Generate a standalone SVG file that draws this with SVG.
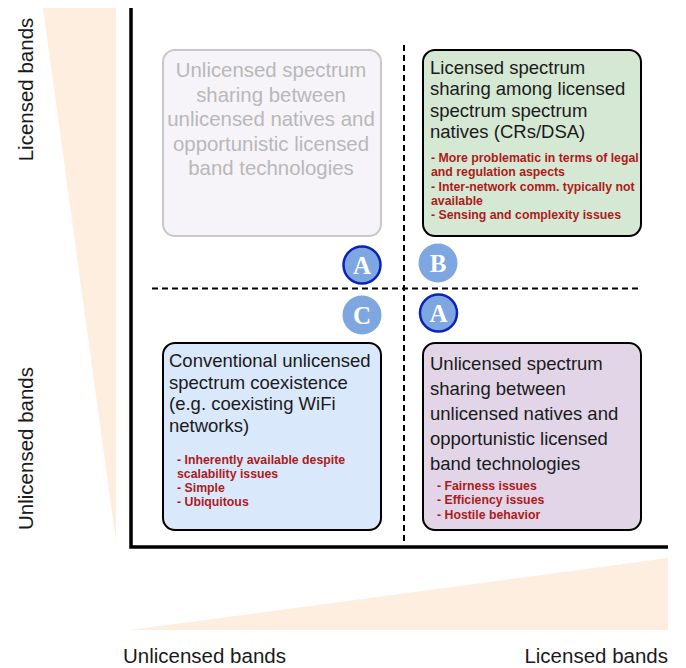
<svg xmlns="http://www.w3.org/2000/svg" width="686" height="668" viewBox="0 0 686 668">
<style>
.ax{font-family:"Liberation Sans",Arial,sans-serif;font-size:20.5px;fill:#1a1a1a}
.t{font-family:"Liberation Sans",Arial,sans-serif;font-size:18.5px;fill:#1a1a1a}
.g{font-family:"Liberation Sans",Arial,sans-serif;font-size:20.4px;fill:#b8b8b8;text-anchor:middle}
.r{font-family:"Liberation Sans",Arial,sans-serif;font-size:12.3px;font-weight:bold;fill:#ad1a1a}
.box{stroke:#000;stroke-width:2}
.dash{stroke:#000;stroke-width:2;stroke-dasharray:6,4;fill:none}
.circ{fill:#7ea6e0}
.ring{stroke:#0a23b8;stroke-width:2.5}
.let{font-family:"Liberation Serif","Times New Roman",serif;font-size:25px;font-weight:bold;fill:#fff;text-anchor:middle}
</style>
<g id="scales">
<polygon points="43,8 116,8 116,542" fill="#fdeedf"/>
<polygon points="130,630 668,558 668,630" fill="#fdeedf"/>
</g>
<g id="axes">
<path d="M131,8 V547 H668" fill="none" stroke="#000" stroke-width="3.5"/>
<text class="ax" transform="translate(33,89.5) rotate(-90)" text-anchor="middle">Licensed bands</text>
<text class="ax" transform="translate(33,448.5) rotate(-90)" text-anchor="middle">Unlicensed bands</text>
<text class="ax" x="123" y="663">Unlicensed bands</text>
<text class="ax" x="668" y="663" text-anchor="end">Licensed bands</text>
</g>
<g id="connectors">
<line class="dash" x1="404" y1="45" x2="404" y2="542"/>
<line class="dash" x1="152" y1="288.5" x2="642" y2="288.5"/>
</g>
<g id="box-tl">
<rect x="163" y="50" width="218" height="186" rx="12" fill="#f6f4f8" stroke="#c8c8c8" stroke-width="2"/>
<text class="g"><tspan x="271" y="77">Unlicensed spectrum</tspan><tspan x="271" y="101.5">sharing between</tspan><tspan x="271" y="126">unlicensed natives and</tspan><tspan x="271" y="150.5">opportunistic licensed</tspan><tspan x="271" y="175">band technologies</tspan></text>
</g>
<g id="box-tr">
<rect class="box" x="423" y="50" width="218" height="186" rx="12" fill="#d5e8d4"/>
<text class="t"><tspan x="430" y="73.5">Licensed spectrum</tspan><tspan x="430" y="95">sharing among licensed</tspan><tspan x="430" y="116.5">spectrum spectrum</tspan><tspan x="430" y="138">natives (CRs/DSA)</tspan></text>
<text class="r"><tspan x="431" y="162">- More problematic in terms of legal</tspan><tspan x="431" y="176.3">and regulation aspects</tspan><tspan x="431" y="190.6">- Inter-network comm. typically not</tspan><tspan x="431" y="204.9">available</tspan><tspan x="431" y="219.2">- Sensing and complexity issues</tspan></text>
</g>
<g id="box-bl">
<rect class="box" x="163" y="343" width="218" height="187" rx="12" fill="#dae8fc"/>
<text class="t"><tspan x="169" y="367">Conventional unlicensed</tspan><tspan x="169" y="388.5">spectrum coexistence</tspan><tspan x="169" y="410">(e.g. coexisting WiFi</tspan><tspan x="169" y="431.5">networks)</tspan></text>
<text class="r"><tspan x="177" y="463.5">- Inherently available despite</tspan><tspan x="177" y="477.8">scalability issues</tspan><tspan x="177" y="492.1">- Simple</tspan><tspan x="177" y="506.4">- Ubiquitous</tspan></text>
</g>
<g id="box-br">
<rect class="box" x="423" y="343" width="218" height="187" rx="12" fill="#e1d5e7"/>
<text class="t"><tspan x="430" y="369.5">Unlicensed spectrum</tspan><tspan x="430" y="394.5">sharing between</tspan><tspan x="430" y="419.5">unlicensed natives and</tspan><tspan x="430" y="444.5">opportunistic licensed</tspan><tspan x="430" y="469.5">band technologies</tspan></text>
<text class="r"><tspan x="437" y="490">- Fairness issues</tspan><tspan x="437" y="504.3">- Efficiency issues</tspan><tspan x="437" y="518.6">- Hostile behavior</tspan></text>
</g>
<g id="badge-a1">
<circle class="circ ring" cx="362" cy="265" r="18.5"/>
<text class="let" x="362" y="274">A</text>
</g>
<g id="badge-b">
<circle class="circ" cx="438" cy="263" r="19.5"/>
<text class="let" x="438" y="272">B</text>
</g>
<g id="badge-c">
<circle class="circ" cx="362" cy="315" r="19.5"/>
<text class="let" x="362" y="324">C</text>
</g>
<g id="badge-a2">
<circle class="circ ring" cx="438.5" cy="313" r="18.5"/>
<text class="let" x="438.5" y="322">A</text>
</g>
</svg>
